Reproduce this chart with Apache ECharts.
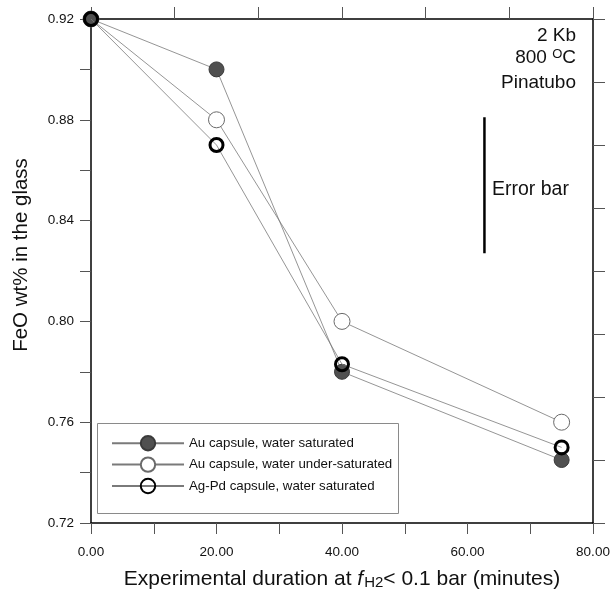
<!DOCTYPE html>
<html>
<head>
<meta charset="utf-8">
<script src="https://cdn.jsdelivr.net/npm/echarts@6/dist/echarts.min.js"></script>
<style>
html,body{margin:0;padding:0;background:#fff;}
#chart{width:615px;height:594px;}
</style>
</head>
<body>
<div id="chart"></div>
<script>
// ---- data ----
const seriesNames = ['Au capsule, water saturated', 'Au capsule, water under-saturated', 'Ag-Pd capsule, water saturated'];
const durations = [0, 20, 40, 75];
const auSaturated = [0.92, 0.90, 0.780, 0.745];
const auUnderSaturated = [0.92, 0.88, 0.800, 0.760];
const agPdSaturated = [0.92, 0.87, 0.783, 0.750];
const errorBarX = [62.7, 62.7];
const errorBarY = [0.881, 0.827];
const xTickLabels = ['0.00', '20.00', '40.00', '60.00', '80.00'];
const yTickLabels = ['0.72', '0.76', '0.80', '0.84', '0.88', '0.92'];
const infoLines = ['2 Kb', '800 ', 'Pinatubo'];
const yTitle = 'FeO wt% in the glass';

const FONT = "'Liberation Sans', Arial, Helvetica, sans-serif";
const pair = (xs, ys) => xs.map((x, i) => [x, ys[i]]);

const chart = echarts.init(document.getElementById('chart'), null, {renderer: 'canvas'});

const lineStyle = {color: '#7a7a7a', width: 0.8};

const option = {
  animation: false,
  backgroundColor: '#fff',
  textStyle: {fontFamily: FONT},
  grid: {left: 91, right: 22, top: 19, bottom: 71, containLabel: false, outerBoundsMode: 'none'},
  xAxis: [{
    type: 'value', min: 0, max: 80, interval: 10, position: 'bottom',
    axisLine: {show: true, onZero: false, lineStyle: {color: '#000', width: 1.5}},
    axisTick: {show: true, inside: false, length: 11, lineStyle: {color: '#555', width: 1}},
    splitLine: {show: false},
    axisLabel: {
      margin: 22, color: '#111', fontSize: 13.5, fontFamily: FONT,
      formatter: v => { const s = v.toFixed(2); return xTickLabels.includes(s) ? s : ''; }
    },
    name: '{a|Experimental duration at }{f|f}{s|H}{t|2}{a|< 0.1 bar (minutes)}',
    nameLocation: 'middle', nameGap: 41,
    nameTextStyle: {
      fontFamily: FONT, color: '#111',
      rich: {
        a: {fontSize: 21, lineHeight: 26, verticalAlign: 'bottom', fontFamily: FONT, color: '#111'},
        f: {fontSize: 21, lineHeight: 26, verticalAlign: 'bottom', fontStyle: 'italic', fontFamily: FONT, color: '#111', padding: [0, 1, 0, 0]},
        s: {fontSize: 15, lineHeight: 13, verticalAlign: 'bottom', fontFamily: FONT, color: '#111'},
        t: {fontSize: 15, lineHeight: 9, verticalAlign: 'bottom', fontFamily: FONT, color: '#111'}
      }
    }
  }, {
    type: 'value', min: 0, max: 6, interval: 1, position: 'top',
    axisLine: {show: true, onZero: false, lineStyle: {color: '#000', width: 1.5}},
    axisTick: {show: true, inside: false, length: 12, lineStyle: {color: '#555', width: 1}},
    axisLabel: {show: false}, splitLine: {show: false}
  }],
  yAxis: [{
    type: 'value', min: 0.72, max: 0.92, interval: 0.02, position: 'left',
    axisLine: {show: true, onZero: false, lineStyle: {color: '#000', width: 1.5}},
    axisTick: {show: true, inside: false, length: 11, lineStyle: {color: '#555', width: 1}},
    splitLine: {show: false},
    axisLabel: {
      margin: 17, color: '#111', fontSize: 13.5, fontFamily: FONT,
      formatter: v => { const s = v.toFixed(2); return yTickLabels.includes(s) ? s : ''; }
    }
  }, {
    type: 'value', min: 0, max: 8, interval: 1, position: 'right',
    axisLine: {show: true, onZero: false, lineStyle: {color: '#000', width: 1.5}},
    axisTick: {show: true, inside: false, length: 12, lineStyle: {color: '#555', width: 1}},
    axisLabel: {show: false}, splitLine: {show: false}
  }],
  legend: {
    data: seriesNames,
    orient: 'vertical', left: 111, top: 435, padding: 0,
    itemWidth: 72, itemHeight: 18, itemGap: 5,
    textStyle: {fontSize: 13.3, color: '#111', fontFamily: FONT},
    selectedMode: false
  },
  graphic: [
    {type: 'rect', shape: {x: 97.5, y: 423.5, width: 301, height: 90}, style: {fill: 'none', stroke: '#8a8a8a', lineWidth: 1}, z: 1},
    {type: 'text', x: 21, y: 255, rotation: Math.PI / 2, style: {text: yTitle, align: 'center', verticalAlign: 'middle', font: '20.5px ' + FONT, fill: '#111'}},
    {type: 'text', x: 576, y: 36, style: {text: infoLines[0], align: 'right', verticalAlign: 'middle', font: '19px ' + FONT, fill: '#111'}},
    {type: 'text', x: 576, y: 62, style: {
      text: '{n|' + infoLines[1] + '}{o|O}{n|C}', align: 'right', verticalAlign: 'middle', fill: '#111',
      rich: {
        n: {fontSize: 19, lineHeight: 28, verticalAlign: 'top', fontFamily: FONT, fill: '#111'},
        o: {fontSize: 13, lineHeight: 12, verticalAlign: 'top', fontFamily: FONT, fill: '#111'}
      }}},
    {type: 'text', x: 576, y: 83, style: {text: infoLines[2], align: 'right', verticalAlign: 'middle', font: '19px ' + FONT, fill: '#111'}},
    {type: 'text', x: 492, y: 190, style: {text: 'Error bar', align: 'left', verticalAlign: 'middle', font: '19.5px ' + FONT, fill: '#111'}}
  ],
  series: [
    {
      name: seriesNames[0], type: 'line', data: pair(durations, auSaturated),
      symbol: 'circle', symbolSize: 15, lineStyle: lineStyle,
      itemStyle: {color: '#505050', borderColor: '#3a3a3a', borderWidth: 1}, z: 3
    },
    {
      name: seriesNames[1], type: 'line', data: pair(durations, auUnderSaturated),
      symbol: 'circle', symbolSize: 16, lineStyle: lineStyle,
      itemStyle: {color: '#ffffff', borderColor: '#6a6a6a', borderWidth: 1}, z: 2
    },
    {
      name: seriesNames[2], type: 'line', data: pair(durations, agPdSaturated),
      symbol: 'circle', symbolSize: 13, lineStyle: lineStyle,
      itemStyle: {color: 'rgba(0,0,0,0)', borderColor: '#000', borderWidth: 3}, z: 4
    },
    {
      name: 'errorbar', type: 'line', data: pair(errorBarX, errorBarY),
      symbol: 'none', silent: true, lineStyle: {color: '#000', width: 2.5}, z: 2
    }
  ]
};
chart.setOption(option);
</script>
</body>
</html>
